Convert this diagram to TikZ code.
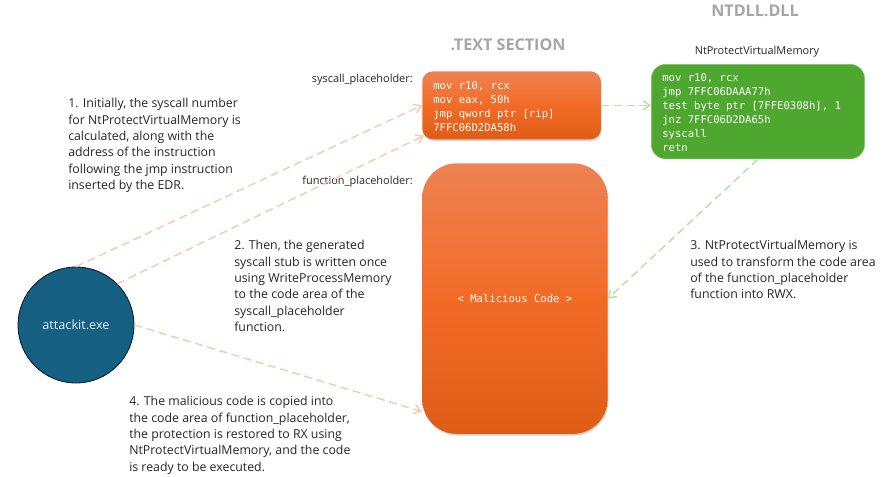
\documentclass[tikz,border=0pt]{standalone}
\usepackage{fontspec}
\setmainfont{Open Sans}
\setmonofont{DejaVu Sans Mono}
\usetikzlibrary{arrows.meta,shadows}
\definecolor{orangetop}{HTML}{EE8253}
\definecolor{orangemid}{HTML}{F26B26}
\definecolor{orangelow}{HTML}{DF5D16}
\definecolor{codegreen}{HTML}{4EA72E}
\definecolor{circleblue}{HTML}{156082}
\definecolor{peachline}{HTML}{F8CBAD}
\definecolor{greenline}{HTML}{B9DFA9}
\tikzset{
  x=.75pt,y=-.75pt,
  orangebox/.style={anchor=north west,inner sep=0pt,top color=orangetop,bottom color=orangelow,middle color=orangemid,
    drop shadow={shadow xshift=.6pt,shadow yshift=-1.2pt,opacity=.35}},
  codetext/.style={font=\ttfamily\fontsize{7.95}{10.5}\selectfont,text=white,align=left},
  note/.style={anchor=north west,inner sep=0pt,align=left,font=\fontsize{9.25}{12.3}\selectfont,text=black!85},
  boxlabel/.style={inner sep=0pt,font=\fontsize{8.2}{10}\selectfont,text=black!85},
  heading/.style={inner sep=0pt,font=\bfseries\fontsize{12.1}{14}\selectfont,text=black!35},
  peacharrow/.style={draw=peachline,line width=1.1pt,dash pattern=on 6pt off 3.5pt,-{Straight Barb[length=5pt,width=7pt]}},
  greenarrow/.style={draw=greenline,line width=1.1pt,dash pattern=on 6pt off 3.5pt,-{Straight Barb[length=5pt,width=7pt]}},
}
\begin{document}
\begin{tikzpicture}
\useasboundingbox (0,0) rectangle (886,476);
% boxes
\node[orangebox,rounded corners=8pt,minimum width=134pt,minimum height=51pt] (syscall) at (422,71) {};
\node[orangebox,rounded corners=26pt,minimum width=139pt,minimum height=203pt] (function) at (422,163) {};
\node[anchor=north west,fill=codegreen,draw=codegreen!70!white,rounded corners=11pt,inner sep=0pt,minimum width=160pt,minimum height=71pt] (ntdll) at (651,64) {};
\node[circle,fill=circleblue,draw=black!75!circleblue,line width=.6pt,minimum size=87pt,inner sep=0pt,text=white!90!circleblue,font=\fontsize{9.5}{11}\selectfont] (attackit) at (76,325) {attackit.exe};
% code
\node[codetext,anchor=north west,inner sep=0pt] (syscallcode) at (433,81) {mov r10, rcx\\mov eax, 50h\\jmp qword ptr [rip]\\7FFC06D2DA58h};
\node[codetext,anchor=north west,inner sep=0pt] (ntdllcode) at (662,73) {mov r10, rcx\\jmp 7FFC06DAAA77h\\test byte ptr [7FFE0308h], 1\\jnz 7FFC06D2DA65h\\syscall\\retn};
\node[codetext] (malicious) at (function.center) {< Malicious Code >};
% labels
\node[heading] (textsection) at (508,45) {.TEXT SECTION};
\node[heading] (ntdllhead) at (755,11) {NTDLL.DLL};
\node[boxlabel] (ntname) at (757,52) {NtProtectVirtualMemory};
\node[boxlabel,anchor=east] (syscalllabel) at (413,80) {syscall\_placeholder:};
\node[boxlabel,anchor=east] (functionlabel) at (413,182) {function\_placeholder:};
% notes
\node[note] (stepone) at (68,98) {1. Initially, the syscall number\\for NtProtectVirtualMemory is\\calculated, along with the\\address of the instruction\\following the jmp instruction\\inserted by the EDR.};
\node[note] (steptwo) at (234,240) {2. Then, the generated\\syscall stub is written once\\using WriteProcessMemory\\to the code area of the\\syscall\_placeholder\\function.};
\node[note] (stepthree) at (690,240) {3. NtProtectVirtualMemory is\\used to transform the code area\\of the function\_placeholder\\function into RWX.};
\node[note] (stepfour) at (129,396) {4. The malicious code is copied into\\the code area of function\_placeholder,\\the protection is restored to RX using\\NtProtectVirtualMemory, and the code\\is ready to be executed.};
% arrows
\draw[peacharrow] (attackit.north) -- (syscall.west);
\draw[peacharrow] (attackit.45) -- ([shift={(2,-4)}]syscall.south west);
\draw[peacharrow] (attackit.east) -- ([yshift=17pt]function.south west);
\draw[greenarrow] (syscall.east) -- (syscall.east -| ntdll.west);
\draw[greenarrow] (ntdll.south) -- (function.east);
\end{tikzpicture}
\end{document}
